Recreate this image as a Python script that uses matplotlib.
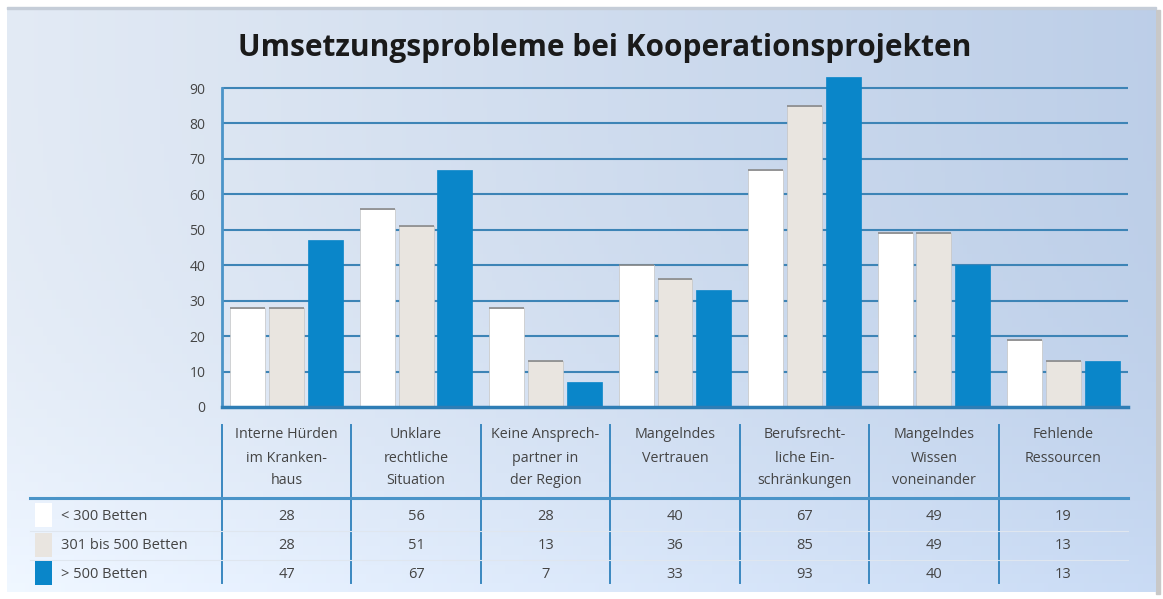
import matplotlib
matplotlib.use("Agg")
import matplotlib.pyplot as plt
import numpy as np
from matplotlib import transforms
from matplotlib.patches import Rectangle

categories = [
    "Interne Hürden\nim Kranken-\nhaus",
    "Unklare\nrechtliche\nSituation",
    "Keine Ansprech-\npartner in\nder Region",
    "Mangelndes\nVertrauen",
    "Berufsrecht-\nliche Ein-\nschränkungen",
    "Mangelndes\nWissen\nvoneinander",
    "Fehlende\nRessourcen",
]
series_names = ["< 300 Betten", "301 bis 500 Betten", "> 500 Betten"]
small = [28, 56, 28, 40, 67, 49, 19]
medium = [28, 51, 13, 36, 85, 49, 13]
large = [47, 67, 7, 33, 93, 40, 13]
yticks = [0, 10, 20, 30, 40, 50, 60, 70, 80, 90]
title = "Umsetzungsprobleme bei Kooperationsprojekten"

colors = ["#ffffff", "#e9e5e0", "#0a86c9"]
grid_col = "#3d84b6"
text_col = "#444444"
FONT = "Open Sans"

W, H = 1163, 599
fig = plt.figure(figsize=(W / 100, H / 100), dpi=100)
fig.patch.set_facecolor("white")

def fx(px):
    return px / W

def fy(py):
    return 1 - py / H

# background gradient panel
bg = fig.add_axes([fx(7), fy(592), fx(1156 - 7), (592 - 7) / H], zorder=-10)
grad = np.linspace(0, 1, 256)
c0 = np.array([0.89, 0.92, 0.96])
c1 = np.array([0.74, 0.81, 0.91])
img = c0[None, :] * (1 - grad[:, None]) + c1[None, :] * grad[:, None]
img = img[None, :, :]
vert = np.linspace(0, 1, 64)
img2 = np.repeat(img, 64, axis=0)
img2 = img2 + (vert[:, None, None] ** 3) * 0.05
img2 = np.clip(img2, 0, 1)
bg.imshow(img2, aspect="auto", extent=[0, 1, 0, 1], origin="upper")
bg.set_axis_off()
fig.patches.append(Rectangle((fx(1156), fy(594)), fx(4), (594 - 10) / H,
                             transform=fig.transFigure, color="#c8c8c8", zorder=-11))
fig.patches.append(Rectangle((fx(7), fy(9)), fx(1149), 2 / H,
                             transform=fig.transFigure, color="#c5cdd8", zorder=-9))

# main axes
ymax = 94
ax = fig.add_axes([fx(222), fy(407), fx(1128 - 222), (ymax * 3.544) / H])
ax.set_facecolor("none")
x = np.arange(len(categories))
bw = 0.27
offs = [-0.30, 0.0, 0.30]
for vals, off, col in zip([small, medium, large], offs, colors):
    ec = "#c4c4c4" if col != colors[2] else col
    bars = ax.bar(x + off, vals, width=bw, color=col, edgecolor=ec, linewidth=0.5, zorder=3)
    if col != colors[2]:
        for b in bars:
            ax.plot([b.get_x(), b.get_x() + b.get_width()], [b.get_height()] * 2,
                    color="#8a8a8a", lw=1.2, zorder=4, solid_capstyle="butt")
ax.set_xlim(-0.5, len(categories) - 0.5)
ax.set_ylim(0, ymax)
ax.set_yticks(yticks)
ax.set_yticklabels([str(t) for t in yticks], fontsize=10, color=text_col, family=FONT)
ax.tick_params(axis="y", length=0, pad=12)
ax.set_xticks([])
for yv in yticks[1:]:
    ax.axhline(yv, color=grid_col, lw=1.5, zorder=1)
for s in ["top", "right"]:
    ax.spines[s].set_visible(False)
ax.spines["left"].set_bounds(0, 90)
ax.spines["left"].set_color("#4b94c8")
ax.spines["left"].set_linewidth(2)
ax.spines["bottom"].set_color("#2e7db5")
ax.spines["bottom"].set_linewidth(2.5)
ax.spines["bottom"].set_zorder(5)

# title
fig.text(fx(605), fy(48), title, ha="center", va="center", fontsize=21.5,
         fontweight="bold", color="#1a1a1a", family=FONT)

# table
tr = transforms.blended_transform_factory(ax.transData, fig.transFigure)
for i, cat in enumerate(categories):
    for k, line in enumerate(cat.split("\n")):
        fig.text(i, fy(435 + 23 * k), line, transform=tr, ha="center", va="center",
                 fontsize=10.3, color=text_col, family=FONT)
    for j, vals in enumerate([small, medium, large]):
        fig.text(i, fy(517 + j * 28.5), str(vals[i]), transform=tr, ha="center",
                 va="center", fontsize=10.5, color=text_col, family=FONT)
for i in range(len(categories)):
    fig.add_artist(plt.Line2D([i - 0.5, i - 0.5], [fy(425), fy(583)], transform=tr,
                              color="#3a88c0", lw=1.4))
fig.add_artist(plt.Line2D([fx(30), fx(1128)], [fy(498), fy(498)],
                          transform=fig.transFigure, color="#4a94c8", lw=2.2))
for yy in [531, 560]:
    fig.add_artist(plt.Line2D([fx(30), fx(1128)], [fy(yy), fy(yy)],
                              transform=fig.transFigure, color="#dfe6ef", lw=0.8))

# legend swatches
sw_top = [503, 533, 561]
for j, name in enumerate(series_names):
    fig.patches.append(Rectangle((fx(35), fy(sw_top[j] + 24)), fx(17), 24 / H,
                                 transform=fig.transFigure, facecolor=colors[j],
                                 edgecolor="none", zorder=2))
    fig.text(fx(61), fy(517 + j * 28.5), name, ha="left", va="center",
             fontsize=10.5, color=text_col, family=FONT)

fig.savefig("out.png", dpi=100)
